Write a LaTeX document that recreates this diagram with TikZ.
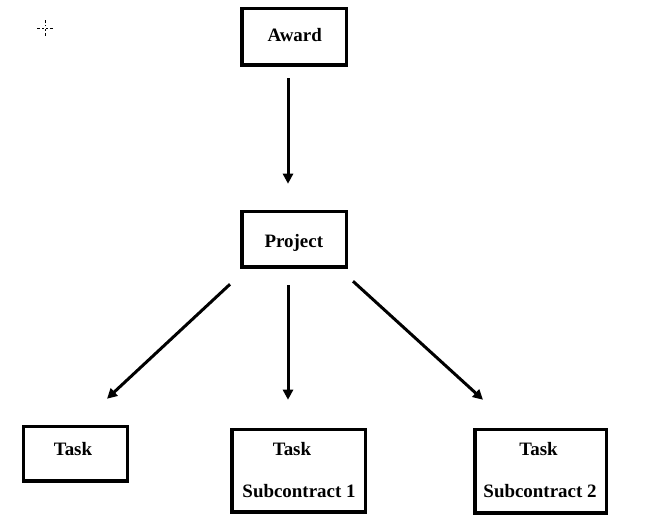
\documentclass[tikz,border=0pt]{standalone}
\usepackage{fontspec}
\setmainfont{Liberation Serif}
\usetikzlibrary{arrows.meta}
\begin{document}
\begin{tikzpicture}[x=1bp,y=1bp,
  box/.style={draw, line width=3.5bp, inner sep=0pt, outer sep=0pt},
  lbl/.style={anchor=base, inner sep=0pt, font=\fontsize{19}{22}\selectfont\bfseries},
  arr/.style={line width=3bp, -{Triangle[length=10bp,width=10bp]}}]
\useasboundingbox (0,0) rectangle (668,526);
% boxes (centre, size measured at line centre)
\node[box, minimum width=104.5bp, minimum height=56.5bp] (award) at (294,489) {};
\node[box, minimum width=104.5bp, minimum height=55.5bp] (project) at (294,286.5) {};
\node[box, minimum width=103.5bp, minimum height=54.5bp] (task) at (75.5,72) {};
\node[box, minimum width=133.5bp, minimum height=82.5bp] (sub1) at (298.5,55) {};
\node[box, minimum width=131.5bp, minimum height=83.5bp] (sub2) at (540.5,54.5) {};
% labels
\node[lbl] (tA) at (294.7,484) {Award};
\node[lbl] (tP) at (293.8,278) {Project};
\node[lbl] (tT) at (73,70) {Task};
\node[lbl] (tS1a) at (292,70) {Task};
\node[lbl] (tS1b) at (299,28) {Subcontract 1};
\node[lbl] (tS2a) at (538.5,70) {Task};
\node[lbl] (tS2b) at (540,28) {Subcontract 2};
% connectors
\draw[arr] ([shift={(-6,-13)}]award.south) -- ([shift={(-6,28)}]project.north);
\draw[arr] ([shift={(-64,-17)}]project.south) -- ([shift={(31.5,28)}]task.north);
\draw[arr] ([shift={(-6,-18)}]project.south) -- ([shift={(-10.5,30)}]sub1.north);
\draw[arr] ([shift={(59,-14)}]project.south) -- ([shift={(-57.5,30)}]sub2.north);
% small cursor cross mark
\coordinate (cr) at (45,498);
\draw[line width=0.9bp] ([xshift=-8]cr) -- ([xshift=-5]cr) ([xshift=-3]cr) -- ([xshift=-1.5]cr)
  ([xshift=1.5]cr) -- ([xshift=3]cr) ([xshift=5]cr) -- ([xshift=8]cr)
  ([yshift=-8]cr) -- ([yshift=-5]cr) ([yshift=-3]cr) -- ([yshift=-1.5]cr)
  ([yshift=1.5]cr) -- ([yshift=3]cr) ([yshift=5]cr) -- ([yshift=8]cr);
\end{tikzpicture}
\end{document}
